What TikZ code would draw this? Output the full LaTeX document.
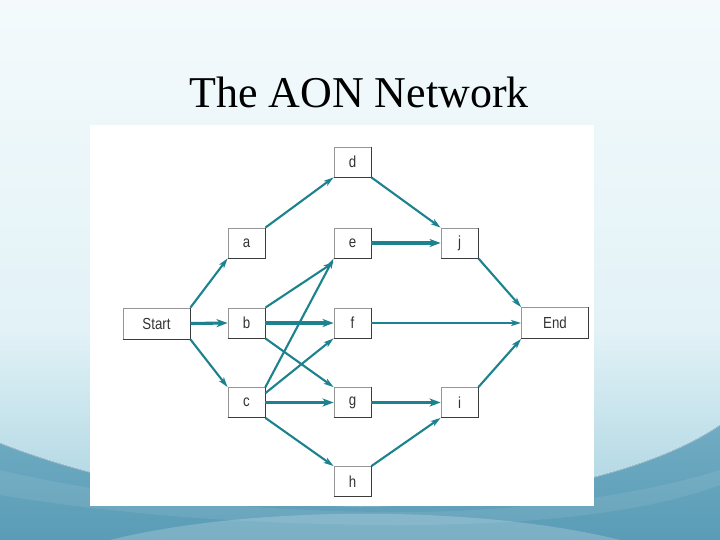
\documentclass[tikz,border=0pt]{standalone}
\usepackage{fontspec}
\setmainfont{Liberation Serif}
\newfontfamily\nodefont[FakeStretch=0.83]{Liberation Sans}
\usetikzlibrary{arrows.meta}
\definecolor{arrowc}{RGB}{28,130,142}
\definecolor{bgtop}{RGB}{244,250,252}
\definecolor{bgmid}{RGB}{226,242,247}
\definecolor{bglow}{RGB}{180,217,229}
\definecolor{tealtop}{RGB}{112,172,195}
\definecolor{tealbot}{RGB}{90,156,182}
\definecolor{boxlight}{RGB}{150,150,150}
\definecolor{boxdark}{RGB}{60,60,60}
\tikzset{
  actbox/.style={draw=boxlight, line width=0.8pt, fill=white, minimum width=37pt, minimum height=30pt,
    inner sep=0pt, font=\nodefont\fontsize{16}{16}\selectfont, text=black!80},
  widebox/.style={actbox, minimum width=67pt, minimum height=31pt},
  conn/.style={draw=arrowc, line width=2.1pt, -{Stealth[length=10pt,width=6pt,inset=2.5pt]}},
  heavy/.style={draw=arrowc, line width=3.1pt, -{Stealth[length=11pt,width=8pt,inset=3pt]}},
}
\begin{document}
\begin{tikzpicture}[x=1pt,y=-1pt]
\useasboundingbox (0,0) rectangle (720,540);
% background
\fill[top color=bgtop, bottom color=bgmid] (0,0) rectangle (720,330);
\fill[top color=bgmid, bottom color=bglow] (0,330) rectangle (720,480);
\fill[bglow] (0,480) rectangle (720,540);
% teal wave
\fill[top color=tealtop, bottom color=tealbot] (0,443) .. controls (120,490) and (250,505) .. (360,506)
   .. controls (480,506) and (640,480) .. (720,425) -- (720,540) -- (0,540) -- cycle;
\draw[white, opacity=0.4, line width=1pt] (0,443) .. controls (120,490) and (250,505) .. (360,506)
   .. controls (480,506) and (640,480) .. (720,425);
\fill[white, opacity=0.08] (0,470) .. controls (150,505) and (300,512) .. (400,512)
   .. controls (520,512) and (640,495) .. (720,470) -- (720,485)
   .. controls (640,515) and (520,525) .. (400,525) .. controls (300,525) and (150,520) .. (0,495) -- cycle;
\fill[white, opacity=0.2] (110,540) .. controls (250,505) and (480,505) .. (620,540) -- cycle;
% panel
\fill[white] (90,125) rectangle (594,506);
% title
\node[font=\fontsize{44}{44}\selectfont, anchor=base] (title) at (359,108) {The AON Network};
% nodes
\node[widebox] (start) at (156.5,323.5) {Start};
\node[actbox] (a) at (246.5,243) {a};
\node[actbox] (b) at (246.5,323) {b};
\node[actbox] (c) at (246.5,402.5) {c};
\node[actbox] (d) at (352.5,162) {d};
\node[actbox] (e) at (352.5,243) {e};
\node[actbox] (f) at (352.5,323) {f};
\node[actbox] (g) at (352.5,402.5) {g};
\node[actbox] (h) at (352.5,481.5) {h};
\node[actbox] (j) at (459.5,243) {j};
\node[actbox] (i) at (459.5,402.5) {i};
\node[widebox] (end) at (555,323) {End};
% darker right and bottom edges
\foreach \n in {start,a,b,c,d,e,f,g,h,j,i,end}{
  \draw[boxdark, line width=0.9pt] (\n.south west) -- (\n.south east) -- (\n.north east);
}
% connectors
\draw[conn] (start.north east) -- (a.south west);
\draw[heavy] (start.east) -- (b.west);
\draw[conn] (start.south east) -- (c.north west);
\draw[conn] (a.north east) -- (d.south west);
\draw[conn] (b.north east) -- ([yshift=-4pt]e.south west);
\draw[heavy] (b.east) -- (f.west);
\draw[conn] (b.south east) -- (g.north west);
\draw[conn] (c.north east) -- (e.south west);
\draw[conn] ([yshift=-6pt]c.north east) -- (f.south west);
\draw[heavy] (c.east) -- (g.west);
\draw[conn] (c.south east) -- (h.north west);
\draw[conn] (d.south east) -- (j.north west);
\draw[heavy] (e.east) -- (j.west);
\draw[conn] (f.east) -- (end.west);
\draw[conn] (j.south east) -- (end.north west);
\draw[heavy] (g.east) -- (i.west);
\draw[conn] (h.north east) -- (i.south west);
\draw[conn] (i.north east) -- (end.south west);
\end{tikzpicture}
\end{document}
